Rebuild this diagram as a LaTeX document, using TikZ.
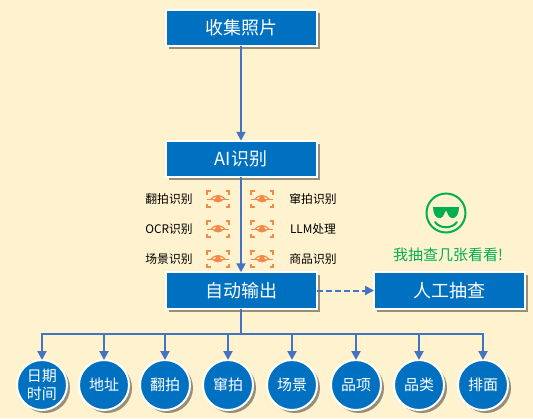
\documentclass[tikz,border=0pt]{standalone}
\usepackage{fontspec}
\setmainfont{Noto Sans CJK SC}
\usepackage{xcolor}
\usetikzlibrary{positioning, arrows.meta, shadows}
\definecolor{pagebg}{HTML}{FFF2CF}
\definecolor{boxblue}{HTML}{0070C0}
\definecolor{linkblue}{HTML}{4472C4}
\definecolor{iconorange}{HTML}{F4894A}
\definecolor{smilegreen}{HTML}{00B050}
\begin{document}
\begin{tikzpicture}[
    x=1pt, y=-1pt,
    softshadow/.style={drop shadow={shadow xshift=3pt, shadow yshift=-3pt, opacity=0.55, fill=black!75!pagebg}},
    stepbox/.style={rectangle, draw=white, fill=boxblue, line width=2pt, text=white, align=center, minimum width=151pt, minimum height=36.5pt, inner sep=0pt, outer sep=0pt, font=\fontsize{18}{20}\selectfont, softshadow},
    tagcircle/.style={circle, draw=white, fill=boxblue, line width=2pt, text=white, align=center, minimum size=50pt, inner sep=0pt, outer sep=0pt, font=\fontsize{15}{18.5}\selectfont, softshadow},
    smalltag/.style={inner sep=0pt, text=black, font=\fontsize{11.8}{14}\selectfont},
    arrow/.style={-{Triangle[width=9pt,length=9pt]}, line width=2pt, draw=linkblue},
    dasharrow/.style={arrow, dash pattern=on 6pt off 3pt},
    eyeicon/.pic={
        \foreach \sx/\sy in {-1/-1, 1/-1, -1/1, 1/1}
            \draw [iconorange, line width=1.3pt] (\sx*11,\sy*4.5) -- (\sx*11,\sy*8) -- (\sx*7.5,\sy*8);
        \draw [iconorange, line width=1pt] (-11,0) -- (11,0);
        \draw [iconorange, line width=1.2pt] (-7,0) .. controls (-3,-4.5) and (3,-4.5) .. (7,0);
        \fill [iconorange] (-6,0) .. controls (-3,4.5) and (3,4.5) .. (6,0) -- cycle;
        \fill [iconorange] (0,-0.5) circle (2.8);
    }
]
    \useasboundingbox [fill=pagebg] (0,0) rectangle (533,418);

    \node [stepbox] (collect) at (241,28) {收集照片};
    \node [stepbox, below=94.5pt of collect] (ai) {AI识别};
    \node [stepbox, below=95pt of ai] (output) {自动输出};
    \node [stepbox, right=57.5pt of output] (manual) {人工抽查};

    % recognition rows
    \foreach \row/\ypos/\lefttext/\righttext in {1/199/翻拍识别/窜拍识别, 2/229/OCR识别/LLM处理, 3/259/场景识别/商品识别} {
        \node [smalltag] (lefttag\row) at (169,\ypos) {\lefttext};
        \node [smalltag] (righttag\row) at (313,\ypos) {\righttext};
        \pic at (218,\ypos) {eyeicon};
        \pic at (262,\ypos) {eyeicon};
    }

    % smiley above the manual check
    \draw [smilegreen, line width=2pt] (446,213) circle (19.5);
    \fill [smilegreen] (433,207) -- (459,207) .. controls (459,214) and (456,219) .. (451.5,218) .. controls (448,217) and (447.5,212) .. (446,210.5) .. controls (444.5,212) and (444,217) .. (440.5,218) .. controls (436,219) and (433,214) .. (433,207) -- cycle;
    \draw [smilegreen, line width=2pt, line cap=round] (435,222) .. controls (440,229) and (452,229) .. (457,222);
    \node [inner sep=0pt, text=smilegreen, font=\fontsize{15}{17}\selectfont] (remark) at (448,255) {我抽查几张看看!};

    % tag circles
    \foreach \name/\xpos/\tagtext in {date/42/日期\\时间, place/104/地址, retake/165/翻拍, spoof/228/窜拍, scene/292/场景, item/356/品项, kind/419/品类, facing/483/排面}
        \node [tagcircle] (\name) at (\xpos,385) {\tagtext};

    \draw [arrow] (collect) -- (ai);
    \draw [arrow] (ai) -- (output);
    \draw [dasharrow] (output) -- (manual);

    \coordinate (bus) at (241,334);
    \draw [line width=2pt, draw=linkblue] (output.south) -- (bus);
    \foreach \name in {date, place, retake, spoof, scene, item, kind, facing}
        \draw [arrow] (bus) -| (\name.north);
\end{tikzpicture}
\end{document}
